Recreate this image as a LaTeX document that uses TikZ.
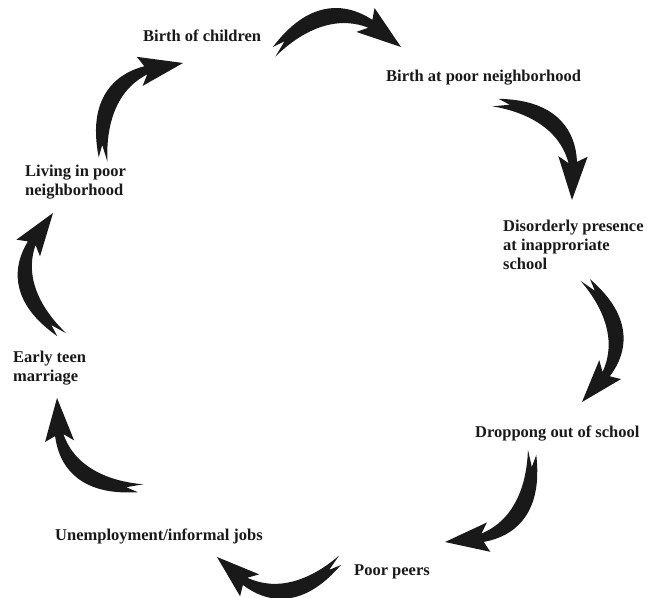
\documentclass[tikz,border=0pt]{standalone}
\usepackage{fontspec}
\setmainfont{Liberation Serif}
\usetikzlibrary{calc}

\tikzset{declare function={
  cy(\x)=1.05*\x*(1-\x);
  cs(\x)=1.05*(1-2*\x);
  cw(\x)=0.035+0.03*sin(180*\x/0.76);
  cn(\x)=sqrt(1+cs(\x)^2);
}}

% curved arrow with forked tail, from tail coordinate #1 to tip coordinate #2
\newcommand{\cyclearrow}[2]{%
  \begin{scope}[shift={(#1)},x={($(#2)-(#1)$)},y={($(#1)!1!90:(#2)-(#1)$)}]
    \fill[arrowbody] (0.07,0.068)
      -- plot[domain=0:0.76,samples=20,variable=\t] ({\t-cw(\t)*cs(\t)/cn(\t)},{cy(\t)+cw(\t)/cn(\t)})
      -- (0.796,0.3165) -- (1,0) -- (0.646,0.1289)
      -- plot[domain=0.76:-0.03,samples=20,variable=\t] ({\t+cw(\t)*cs(\t)/cn(\t)},{cy(\t)-cw(\t)/cn(\t)})
      -- cycle;
  \end{scope}}

\begin{document}
\begin{tikzpicture}[x=1pt,y=1pt]
  \tikzstyle{lbl}=[font=\bfseries\fontsize{16.5}{19}\selectfont, align=left, inner sep=0pt, anchor=base west, text=black!90]
  \tikzstyle{arrowbody}=[fill=black!90]
  \useasboundingbox (0,0) rectangle (647,597);

  \node[lbl] (children)  at (143,555) {Birth of children};
  \node[lbl] (birthpoor) at (386,515) {Birth at poor neighborhood};
  \node[lbl] (school)    at (503,327) {Disorderly presence\\at inapproriate\\school};
  \node[lbl] (dropout)   at (475,160) {Droppong out of school};
  \node[lbl] (peers)     at (354,22)  {Poor peers};
  \node[lbl] (jobs)      at (55,57)   {Unemployment/informal jobs};
  \node[lbl] (marriage)  at (13,215)  {Early teen\\marriage};
  \node[lbl] (living)    at (25,401)  {Living in poor\\neighborhood};

  \coordinate (t1) at (276,547); \coordinate (h1) at (401,550);
  \coordinate (t2) at (498,494); \coordinate (h2) at (572,397);
  \coordinate (t3) at (587,315); \coordinate (h3) at (582,195);
  \coordinate (t4) at (532,142); \coordinate (h4) at (445,55);
  \coordinate (t5) at (338,35);  \coordinate (h5) at (217,40);
  \coordinate (t6) at (138,109); \coordinate (h6) at (57,199);
  \coordinate (t7) at (60,264);  \coordinate (h7) at (53,384);
  \coordinate (t8) at (103,440); \coordinate (h8) at (183,534);

  \cyclearrow{t1}{h1}
  \cyclearrow{t2}{h2}
  \cyclearrow{t3}{h3}
  \cyclearrow{t4}{h4}
  \cyclearrow{t5}{h5}
  \cyclearrow{t6}{h6}
  \cyclearrow{t7}{h7}
  \cyclearrow{t8}{h8}
\end{tikzpicture}
\end{document}
